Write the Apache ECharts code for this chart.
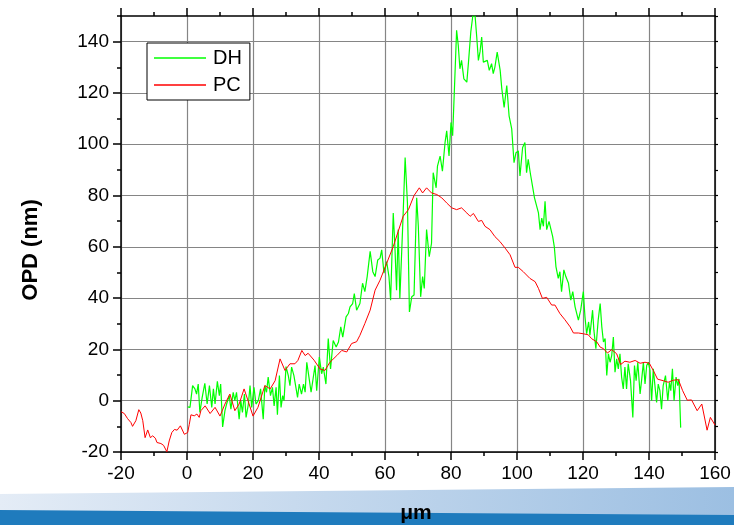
<!DOCTYPE html>
<html>
<head>
<meta charset="utf-8">
<script src="https://cdn.jsdelivr.net/npm/echarts@6/dist/echarts.min.js"></script>
<style>html,body{margin:0;padding:0;background:#fff}#c{width:734px;height:525px}</style>
</head>
<body>
<div id="c"></div>
<script>
var xTicks = [-20, 0, 20, 40, 60, 80, 100, 120, 140, 160];
var yTicks = [-20, 0, 20, 40, 60, 80, 100, 120, 140];

var dhX = [0.2,0.9,1.7,2.4,2.9,3.4,3.9,4.6,5.4,6.1,6.8,7.5,8,8.5,9.2,9.8,10.2,10.8,11.5,12,12.8,13.3,14,14.5,15,15.8,16.3,16.8,17.4,17.9,18.6,19.1,19.6,20.3,20.9,21.6,22.3,23.1,23.6,24.1,24.6,25.3,25.9,26.4,27,27.4,28,28.5,29,29.4,30,30.7,31.2,31.7,32.4,33,33.5,34,34.7,35.3,35.8,36.3,37.1,37.6,38.1,38.8,39.3,40.1,40.8,41.3,42.1,42.8,43.5,44.3,45.2,45.9,46.6,47.2,48.2,48.9,49.4,50.2,50.7,51.4,52.4,53.2,53.9,54.6,55.5,56.3,57,57.8,58.5,59,59.7,60.5,61.2,61.7,62.5,63,63.5,64,64.5,65.4,66.1,66.8,67.4,68.1,68.8,69.6,70.1,70.8,71.4,71.9,72.6,73.4,74.1,74.6,75.5,75.9,76.7,77.4,78.2,78.7,79.4,80,80.5,81,81.7,82.2,82.7,83.2,83.9,84.8,85.3,86,86.6,87.3,87.8,88.3,88.8,89.3,89.8,90.3,91,91.6,92.3,92.8,93.3,94,94.9,95.4,96.1,96.9,97.6,98.4,99.1,99.7,100.4,100.9,101.7,102.4,102.9,103.4,104.1,104.7,105.3,105.8,106.5,107,107.5,108,108.5,109,109.7,110.2,110.8,111.3,111.8,112.5,113,113.5,114.2,114.8,115.6,116.3,116.9,117.6,118.1,118.6,119.3,120.1,120.6,121.1,121.7,122.1,122.9,123.3,123.9,124.6,125.2,125.7,126.2,126.7,127.2,127.7,128.2,128.7,129.2,129.7,130.2,130.7,131.2,131.7,132.2,132.7,133.2,133.7,134.4,135.1,135.6,136.1,136.6,137.3,137.8,138.3,138.8,139.3,139.8,140.3,140.8,141.3,141.8,142.3,142.8,143.3,143.8,144.3,145,145.7,146.2,146.6,147.1,147.6,148.2,148.7,149.1,149.6];
var dhY = [-2.4,-2.6,5.9,4.6,2.6,6.5,-4.6,1.3,6.8,-1.3,5.9,-2.6,4.6,-1.3,7.6,2,6.5,-10.2,-3.9,-1.3,2,-3.3,3.3,0,3.3,-7.2,0,-4.6,2.6,-6.5,-1.3,5.9,-2.6,5.2,-1.3,0,4.6,-7.2,5.9,3.3,9.2,2,5.2,-2,5.2,-5.5,9.8,-2.6,2,0,13.3,9.8,5.9,13.1,9.8,5.2,1.3,6.5,2.6,6.5,3.3,15,7.8,3.3,2.6,13.7,3.9,17,10.5,13.1,6.5,24.2,12.4,23.5,20.9,22.9,28.8,24.8,32.7,34,36.6,37.9,41.8,35.3,37.9,45.8,42.5,48.4,58.2,50.3,48.4,54.9,55.6,58.8,49.7,54.2,48.4,39.2,73.2,60.1,43.1,66.7,39.9,69.3,94.8,77.1,34.6,40.5,41.2,79.1,68,40.5,48.4,43.8,66.7,56.2,61.4,88.9,83,91.5,95.4,89.5,100.7,105.2,95.4,108.5,103.3,120.3,144.4,138.6,129.4,132.7,125.5,124.2,132,143.8,150,150,141.8,132.7,136.1,141.8,132,132,132.7,128.8,131.4,127.5,130.1,135.9,128.8,121.6,114.4,122.9,111.1,106,92.8,96.7,97.4,87.6,98.7,100.7,88.9,94.1,88.2,87.6,79.1,79.7,73.2,66.7,71.2,68,77.8,66.7,69.9,70.6,64.1,60.1,52.3,47.7,50.3,42.5,51,48.4,45.8,39.2,42.5,36.6,35.9,31.4,35.3,42.5,32.7,26.1,30.7,25.5,35.3,27.5,20.3,31.4,37.9,28.8,22.9,24.2,9.8,18.3,15,17.6,24.8,11.1,16.3,12.4,18.3,9.2,4.6,13.1,4.6,14.4,7.8,-6.5,13.7,7.8,15,2.6,8.5,15,6.5,13.7,15,11.8,0,12.4,5.9,-0.7,6.5,3.9,-3.3,5.9,9.8,0,7.2,3.9,12.4,0,9.2,5.9,8.5,-10.5];

var pcX = [-20,-19,-18,-17,-16.5,-15.5,-14.6,-14,-13.4,-12.7,-11.9,-11.1,-10.4,-9.6,-9.1,-7.9,-7.1,-6.1,-5.4,-4.6,-3.8,-3,-2,-1.5,-0.8,0.2,0.7,1.2,2.2,3,3.7,4.2,5.5,7,8.5,10,11.5,13,14.5,15.8,17.3,18.5,20,21.5,23.6,25.2,26.7,28.2,29.7,31.2,32.7,33.6,34.8,35.8,36.7,38.5,40.3,41.8,43.3,45.4,46.9,48.4,49.9,51.4,52.4,53.9,55.5,57,58.5,60.5,62.5,64,65.5,67.1,68.8,70.4,71.4,72.6,74.1,75.7,77.2,78.7,80.2,81.7,83.2,84.8,85.8,86.8,88.3,89.3,90.3,91.8,93.3,94.8,96.4,97.9,99.4,100.4,101.9,103.9,105.5,106.5,107.7,109,110.5,111.5,113,114.5,116.1,117.1,118.6,120.1,121.6,122.6,124.2,125.2,126.2,127.4,128.7,130.2,131.4,132.7,134.2,135.8,137.3,138.8,140.1,141.3,142.6,144.3,145.8,147.4,148.9,150.2,151.6,152.9,154.6,156,157.6,158.6,160];
var pcY = [-4.3,-5,-7,-8.5,-10,-7.8,-3.5,-4.8,-7.8,-14.4,-11.4,-14.4,-13.7,-14.6,-16.3,-16.7,-17.4,-19.9,-15.7,-12.4,-11.2,-11.5,-9.8,-9.2,-13.1,-12.4,-9.2,-5.5,-5.9,-5.2,-6.5,-3.9,-2,-5,-2.6,-6,-1.3,2.6,-3.9,-1.3,4.6,0,-6,-2.6,5.9,4.6,7.8,16.3,11.8,14.4,14.4,15.7,19.6,17.6,18.5,15.8,12.4,11.8,15,17.6,19.6,19,22.3,23,25.5,30.1,35.3,43.1,47,53.6,60.1,66,71.9,74.5,80,83,81,83,81,80.4,79.1,77.1,75.2,74.5,75.2,73.2,71.9,73,69.9,70.3,68,66.7,64,62.1,59.5,56.9,52,52,50.3,47.7,46.4,43.8,39.9,40.3,37.3,37.3,34,31.6,28.8,26.4,26.4,26.1,25.7,24.2,22.9,20.9,20.3,18.6,19.9,18.3,14.1,15.4,15,15.7,14.6,15,14.6,11.8,8.4,7.8,7.2,8,8.2,3.9,0.2,0.3,-3.9,-1.3,-11.5,-6.5,-9.5];

function zip(xs, ys) { var o = []; for (var i = 0; i < xs.length; i++) o.push([xs[i], ys[i]]); return o; }

var FONT = '"Liberation Sans", Arial, sans-serif';
var chart = echarts.init(document.getElementById('c'), null, {renderer: 'canvas'});
var lineStyleAxis = {color: '#000', width: 1.5};
chart.setOption({
  animation: false,
  backgroundColor: '#fff',
  grid: {left: 121, right: 19, top: 16, bottom: 73, containLabel: false},
  legend: {
    orient: 'vertical', left: 147, top: 43,
    padding: [5, 8, 5, 7], itemGap: 7, itemWidth: 52, itemHeight: 1.5,
    borderColor: '#000', borderWidth: 1, borderRadius: 0, backgroundColor: '#fff',
    textStyle: {fontSize: 20, fontFamily: FONT, color: '#000', padding: [0, 0, 0, 2]},
    data: [{name: 'DH', icon: 'rect'}, {name: 'PC', icon: 'rect'}]
  },
  xAxis: [{
    type: 'value', position: 'bottom', min: xTicks[0], max: xTicks[xTicks.length - 1], interval: 20,
    axisLine: {show: true, onZero: false, lineStyle: lineStyleAxis},
    axisTick: {show: true, inside: false, length: 8, lineStyle: {color: '#000', width: 1.5}},
    minorTick: {show: true, splitNumber: 2, length: 4, lineStyle: {color: '#000', width: 1.5}},
    axisLabel: {fontSize: 19, fontFamily: FONT, color: '#000', margin: 12},
    splitLine: {show: true, lineStyle: {color: '#858585', width: 1.2}}
  }, {
    type: 'value', position: 'top', min: xTicks[0], max: xTicks[xTicks.length - 1], interval: 20,
    axisLine: {show: true, onZero: false, lineStyle: lineStyleAxis},
    axisTick: {show: true, inside: false, length: 8, lineStyle: {color: '#000', width: 1.5}},
    minorTick: {show: true, splitNumber: 2, length: 4, lineStyle: {color: '#000', width: 1.5}},
    axisLabel: {show: false}, splitLine: {show: false}
  }],
  yAxis: [{
    type: 'value', position: 'left', min: -20, max: 150, interval: 10,
    axisLine: {show: true, onZero: false, lineStyle: lineStyleAxis},
    axisTick: {show: true, inside: false, length: 4, lineStyle: {color: '#000', width: 1.5}},
    axisLabel: {show: false}, splitLine: {show: false}
  }, {
    type: 'value', position: 'left', min: -20, max: 150, interval: 20,
    axisLine: {show: false, onZero: false},
    axisTick: {show: true, inside: false, length: 8, customValues: yTicks, lineStyle: {color: '#000', width: 1.5}},
    axisLabel: {fontSize: 19, fontFamily: FONT, color: '#000', margin: 12, customValues: yTicks},
    splitLine: {show: true, lineStyle: {color: '#858585', width: 1.2}}
  }, {
    type: 'value', position: 'right', min: -20, max: 150, interval: 10,
    axisLine: {show: true, onZero: false, lineStyle: lineStyleAxis},
    axisTick: {show: true, inside: false, length: 3, lineStyle: {color: '#000', width: 1.2}},
    axisLabel: {show: false}, splitLine: {show: false}
  }],
  series: [{
    name: 'DH', type: 'line', xAxisIndex: 0, yAxisIndex: 0, showSymbol: false, symbol: 'none',
    lineStyle: {color: '#00ff00', width: 1.2}, itemStyle: {color: '#00ff00'},
    data: zip(dhX, dhY), z: 3
  }, {
    name: 'PC', type: 'line', xAxisIndex: 0, yAxisIndex: 0, showSymbol: false, symbol: 'none',
    lineStyle: {color: '#ff0000', width: 1}, itemStyle: {color: '#ff0000'},
    data: zip(pcX, pcY), z: 4
  }],
  graphic: [
    {type: 'polygon', z: 0, silent: true,
     shape: {points: [[0, 494], [734, 487], [734, 525], [0, 525]]},
     style: {fill: new echarts.graphic.LinearGradient(0, 0, 1, 0, [{offset: 0, color: '#e4ecf6'}, {offset: 1, color: '#9cbfe2'}])}},
    {type: 'polygon', z: 1, silent: true,
     shape: {points: [[0, 510], [734, 515], [734, 525], [0, 525]]},
     style: {fill: '#1f7bbd'}},
    {type: 'text', z: 10, silent: true, x: 416, y: 513,
     style: {text: 'μm', font: 'bold 21px ' + FONT, fill: '#000', textAlign: 'center', textVerticalAlign: 'middle'}},
    {type: 'text', z: 10, silent: true, x: 31, y: 250, rotation: Math.PI / 2,
     style: {text: 'OPD (nm)', font: 'bold 22px ' + FONT, fill: '#000', textAlign: 'center', textVerticalAlign: 'middle'}}
  ]
});
</script>
</body>
</html>
